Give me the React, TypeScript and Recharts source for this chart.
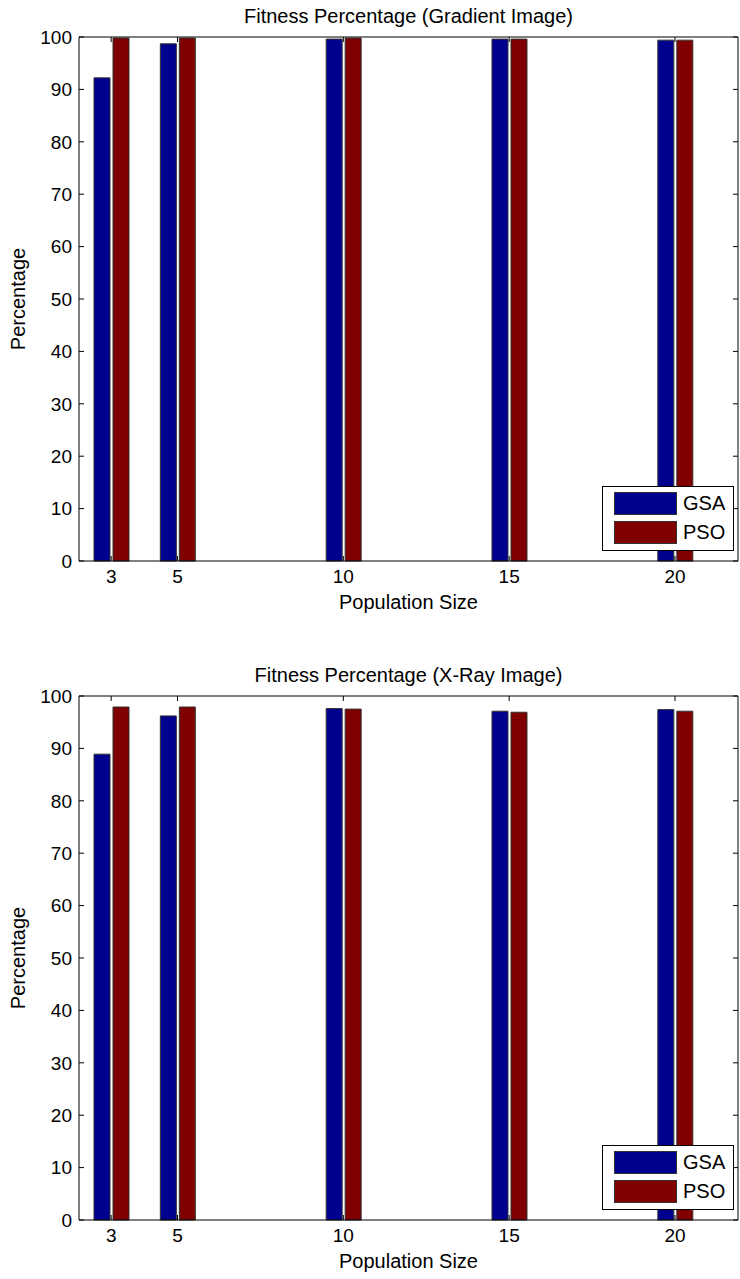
import { ComposedChart, Bar, Line, XAxis, YAxis, Legend, Label } from "recharts";

// population sizes on the x axis
const populationSizes = [3, 5, 10, 15, 20];

// fitness percentage, gradient image
const gradientGSA = [92.2, 98.7, 99.6, 99.6, 99.4];
const gradientPSO = [99.8, 99.8, 99.8, 99.6, 99.4];

// fitness percentage, x-ray image
const xrayGSA = [88.9, 96.2, 97.6, 97.1, 97.4];
const xrayPSO = [97.9, 97.9, 97.5, 96.9, 97.1];

const yTicks = [0, 10, 20, 30, 40, 50, 60, 70, 80, 90, 100];
const xDomain: [number, number] = [2.03, 21.9];

const FONT = "Arial, 'Liberation Sans', sans-serif";
const GSA_COLOR = "#00008f";
const PSO_COLOR = "#800000";
const PLOT_TOP = 37;
const PLOT_H = 524;

function buildRows(gsa: number[], pso: number[]) {
  return populationSizes.map((size, i) => ({ size, GSA: gsa[i], PSO: pso[i] }));
}

function LegendBox({ payload }: any) {
  const items = (payload || []).filter((p: any) => p.type !== "none");
  return (
    <div
      style={{
        width: 132,
        height: 65,
        border: "1px solid #000",
        background: "#fff",
        boxSizing: "border-box",
        padding: "5px 0 0 11px",
      }}
    >
      {items.map((p: any) => (
        <div key={p.value} style={{ display: "flex", alignItems: "center", height: 23, marginBottom: 6 }}>
          <span
            style={{
              display: "inline-block",
              width: 63,
              height: 23,
              boxSizing: "border-box",
              background: p.color,
              border: "1px solid #333",
            }}
          />
          <span style={{ marginLeft: 6, fontSize: 20, fontFamily: FONT, color: "#000" }}>{p.value}</span>
        </div>
      ))}
    </div>
  );
}

interface PanelProps {
  title: string;
  gsa: number[];
  pso: number[];
  top: number;
  height: number;
}

function Panel({ title, gsa, pso, top, height }: PanelProps) {
  const rows = buildRows(gsa, pso);
  return (
    <div style={{ position: "absolute", left: 0, top, width: 740, height }}>
      <div
        style={{
          position: "absolute",
          left: 79,
          top: 5,
          width: 659,
          textAlign: "center",
          fontFamily: FONT,
          fontSize: 20,
          lineHeight: "22px",
          color: "#000",
        }}
      >
        {title}
      </div>
      <ComposedChart
        width={740}
        height={height}
        data={rows}
        barGap={3}
        margin={{ top: PLOT_TOP - 1, right: 1, bottom: 0, left: 0 }}
        style={{ fontFamily: FONT }}
      >
        <XAxis
          xAxisId="bottom"
          dataKey="size"
          type="number"
          domain={xDomain}
          ticks={populationSizes}
          interval={0}
          height={height - PLOT_TOP - PLOT_H}
          tickSize={-5}
          tickMargin={14}
          stroke="#000"
          tick={{ fill: "#000", fontSize: 19 }}
        >
          <Label value="Population Size" position="insideTop" offset={34} fill="#000" fontSize={20} />
        </XAxis>
        <XAxis
          xAxisId="top"
          orientation="top"
          dataKey="size"
          type="number"
          domain={xDomain}
          ticks={populationSizes}
          interval={0}
          height={1}
          tickSize={-5}
          stroke="#000"
          tickFormatter={() => ""}
        />
        <YAxis
          yAxisId="left"
          domain={[0, 100]}
          ticks={yTicks}
          interval={0}
          width={79}
          tickSize={-5}
          tickMargin={12}
          stroke="#000"
          tick={{ fill: "#000", fontSize: 19 }}
        >
          <Label value="Percentage" angle={-90} position="center" dx={-22} fill="#000" fontSize={20} />
        </YAxis>
        <YAxis
          yAxisId="right"
          orientation="right"
          domain={[0, 100]}
          ticks={yTicks}
          interval={0}
          width={1}
          tickSize={-5}
          stroke="#000"
          tickFormatter={() => ""}
        />
        <Bar
          xAxisId="bottom"
          yAxisId="left"
          dataKey="GSA"
          name="GSA"
          fill={GSA_COLOR}
          stroke="#333"
          strokeWidth={1}
          barSize={16}
          isAnimationActive={false}
        />
        <Bar
          xAxisId="bottom"
          yAxisId="left"
          dataKey="PSO"
          name="PSO"
          fill={PSO_COLOR}
          stroke="#333"
          strokeWidth={1}
          barSize={16}
          isAnimationActive={false}
        />
        {/* invisible series so the top and right (box) axes get drawn */}
        <Line
          xAxisId="top"
          yAxisId="right"
          dataKey="GSA"
          stroke="none"
          dot={false}
          activeDot={false}
          legendType="none"
          isAnimationActive={false}
        />
        <Legend
          layout="vertical"
          align="center"
          verticalAlign="middle"
          content={<LegendBox />}
          wrapperStyle={{ left: 602, top: 486, width: 132, height: 65 }}
        />
      </ComposedChart>
    </div>
  );
}

export default function App() {
  return (
    <div
      style={{
        position: "absolute",
        left: 0,
        top: 0,
        width: 740,
        height: 1279,
        background: "#fff",
        overflow: "hidden",
      }}
    >
      <Panel title="Fitness Percentage (Gradient Image)" gsa={gradientGSA} pso={gradientPSO} top={0} height={640} />
      <Panel title="Fitness Percentage (X-Ray Image)" gsa={xrayGSA} pso={xrayPSO} top={659} height={620} />
    </div>
  );
}
